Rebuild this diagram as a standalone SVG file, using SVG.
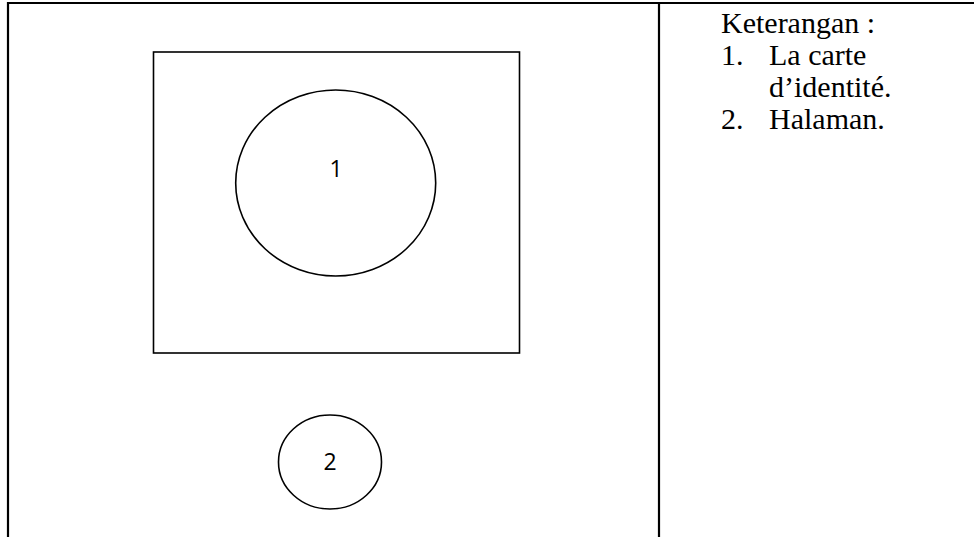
<svg xmlns="http://www.w3.org/2000/svg" width="974" height="537" viewBox="0 0 974 537">
<style>
.tbl{stroke:#000;stroke-width:2.2;fill:none}
.shape{stroke:#000;stroke-width:1.6;fill:none}
.num{font-family:"Open Sans","Noto Sans",sans-serif;font-size:23px;fill:#000;text-anchor:middle}
.leg{font-family:"Liberation Serif","Times New Roman",serif;font-size:30px;fill:#000}
</style>
<rect width="974" height="537" fill="#fff"/>
<g id="table">
<line class="tbl" x1="7" y1="3" x2="974" y2="3"/>
<line class="tbl" x1="8" y1="2" x2="8" y2="537"/>
<line class="tbl" x1="659" y1="3" x2="659" y2="537"/>
</g>
<g id="card">
<rect class="shape" x="153.5" y="52" width="366" height="301"/>
</g>
<g id="node1">
<ellipse class="shape" cx="335.7" cy="183" rx="100" ry="93"/>
<text class="num" x="336" y="177">1</text>
</g>
<g id="node2">
<ellipse class="shape" cx="330" cy="462" rx="51.5" ry="47"/>
<text class="num" x="330" y="470">2</text>
</g>
<g id="legend">
<text class="leg" x="721" y="33">Keterangan :</text>
<text class="leg" x="721" y="65">1.</text>
<text class="leg" x="769" y="65">La carte</text>
<text class="leg" x="769" y="97">d’identité.</text>
<text class="leg" x="721" y="129">2.</text>
<text class="leg" x="769" y="129">Halaman.</text>
</g>
<g id="connectors"></g>
</svg>
